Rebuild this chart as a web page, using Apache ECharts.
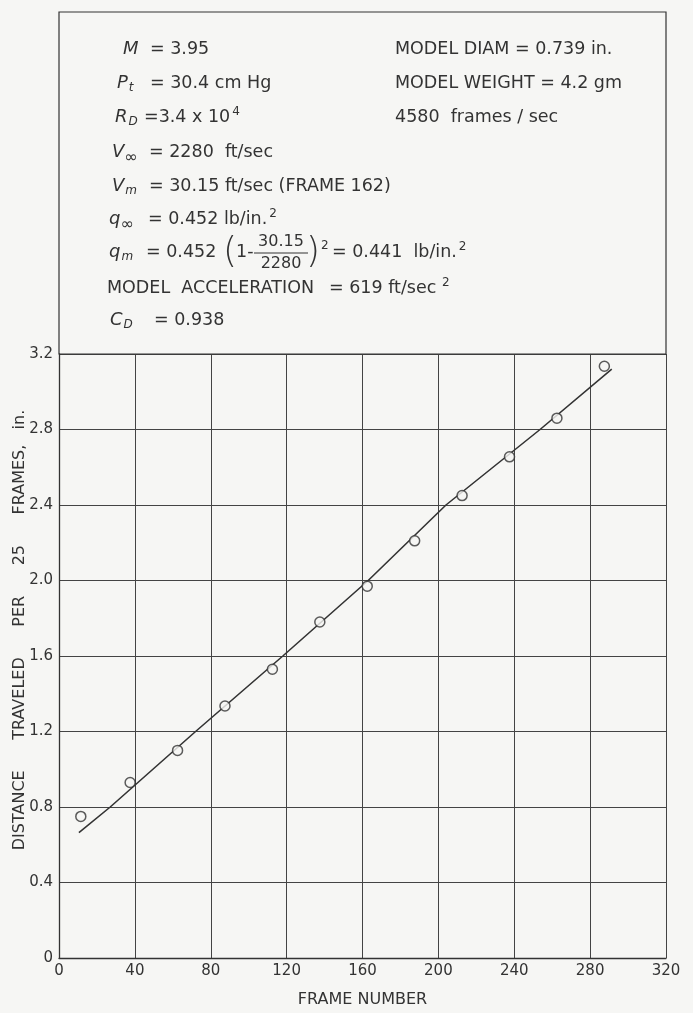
<!DOCTYPE html>
<html>
<head>
<meta charset="utf-8">
<script src="https://cdn.jsdelivr.net/npm/echarts@6/dist/echarts.min.js"></script>
<style>
html,body{margin:0;padding:0;background:#f6f6f4;}
#c{width:693px;height:1013px;}
</style>
</head>
<body>
<div id="c"></div>
<script>
// ---- data ----
const frameNumber = [11.5, 37.5, 62.5, 87.5, 112.5, 137.5, 162.5, 187.5, 212.5, 237.5, 262.5, 287.5];
const distance    = [0.75, 0.93, 1.10, 1.335, 1.53, 1.78, 1.97, 2.21, 2.45, 2.655, 2.86, 3.135];
const fairedFrame    = [10.5, 27, 72, 118, 163, 204, 253.6, 291.4];
const fairedDistance = [0.664, 0.80, 1.2, 1.6, 2.0, 2.4, 2.8, 3.12];
const xTicks = [0, 40, 80, 120, 160, 200, 240, 280, 320];
const yTicks = [0, 0.4, 0.8, 1.2, 1.6, 2.0, 2.4, 2.8, 3.2];

const BG = '#f6f6f4', INK = '#333';
const FF = '"DejaVu Sans", sans-serif';

const rich = {
  i:   {fontFamily: FF, fontSize: 18, fontStyle: 'italic', fill: INK, verticalAlign: 'middle'},
  sb:  {fontFamily: FF, fontSize: 12, fontStyle: 'italic', fill: INK, padding: [9, 0, 0, 1], verticalAlign: 'middle'},
  inf: {fontFamily: FF, fontSize: 16, fill: INK, padding: [11, 0, 0, 0], verticalAlign: 'middle'},
  sp:  {fontFamily: FF, fontSize: 12, fill: INK, padding: [0, 0, 11, 2], verticalAlign: 'middle'},
  n:   {fontFamily: FF, fontSize: 17.5, fill: INK, verticalAlign: 'middle'}
};
function T(x, y, text, extra) {
  return {type: 'text', x: x, y: y, z: 10,
    style: Object.assign({text: text, rich: rich, fill: INK, fontFamily: FF, fontSize: 17.5,
      align: 'left', verticalAlign: 'middle'}, extra || {})};
}
function paren(x, ch) {
  return {type: 'text', x: x, y: 253, z: 10,
    style: {text: ch, fill: INK, fontFamily: FF, fontSize: 36, fontWeight: 'lighter',
      align: 'left', verticalAlign: 'middle'}};
}

const texts = [
  T(123, 49, '{i|M}'),            T(150, 49, '{n|= 3.95}'),
  T(117, 83, '{i|P}{sb|t}'),      T(150, 83, '{n|= 30.4 cm Hg}'),
  T(115, 117, '{i|R}{sb|D}'),     T(144, 117, '{n|=3.4 x 10}{sp|4}'),
  T(112, 152, '{i|V}{inf|∞}'),    T(149, 152, '{n|= 2280  ft/sec}'),
  T(112, 186, '{i|V}{sb|m}'),     T(149, 186, '{n|= 30.15 ft/sec (FRAME 162)}'),
  T(109, 219, '{i|q}{inf|∞}'),    T(148, 219, '{n|= 0.452 lb/in.}{sp|2}'),
  T(109, 252, '{i|q}{sb|m}'),     T(146, 252, '{n|= 0.452}'),
  paren(223, '('),
  T(236, 252, '{n|1-}'),
  T(281, 242, '30.15', {align: 'center', fontSize: 16}),
  {type: 'line', z: 10, shape: {x1: 254, y1: 253, x2: 308, y2: 253}, style: {stroke: INK, lineWidth: 1.2}},
  T(281, 264, '2280', {align: 'center', fontSize: 16}),
  paren(306, ')'),
  T(321, 246, '2', {fontSize: 12}),
  T(332, 252, '{n|= 0.441  lb/in.}{sp|2}'),
  T(107, 288, '{n|MODEL  ACCELERATION}'), T(329, 288, '{n|= 619 ft/sec}{sp| 2}'),
  T(110, 320, '{i|C}{sb|D}'),     T(154, 320, '{n|= 0.938}'),
  T(395, 49, '{n|MODEL DIAM = 0.739 in.}'),
  T(395, 83, '{n|MODEL WEIGHT = 4.2 gm}'),
  T(395, 117, '{n|4580  frames / sec}'),
  {type: 'rect', z: 5, shape: {x: 59, y: 12, width: 607, height: 342},
   style: {fill: 'none', stroke: INK, lineWidth: 1.2}}
];

const chart = echarts.init(document.getElementById('c'), null, {renderer: 'canvas'});
chart.setOption({
  backgroundColor: BG,
  animation: false,
  grid: {left: 59, right: 27, top: 354, bottom: 55, containLabel: false, outerBoundsMode: 'none'},
  xAxis: {
    type: 'value', min: xTicks[0], max: xTicks[xTicks.length - 1], interval: 40,
    name: 'FRAME NUMBER', nameLocation: 'middle', nameGap: 34, nameMoveOverlap: false,
    nameTextStyle: {color: INK, fontFamily: FF, fontSize: 16},
    axisLine: {show: true, lineStyle: {color: INK, width: 1.3}},
    axisTick: {show: false},
    axisLabel: {color: INK, fontFamily: FF, fontSize: 15, margin: 6},
    splitLine: {show: true, lineStyle: {color: '#444', width: 1}}
  },
  yAxis: {
    type: 'value', min: yTicks[0], max: yTicks[yTicks.length - 1], interval: 0.4,
    name: 'DISTANCE      TRAVELED      PER      25      FRAMES,   in.', nameLocation: 'middle',
    nameGap: 31, nameMoveOverlap: false,
    nameTextStyle: {color: INK, fontFamily: FF, fontSize: 16, padding: [0, 0, 0, 52]},
    axisLine: {show: true, lineStyle: {color: INK, width: 1.3}},
    axisTick: {show: false},
    axisLabel: {color: INK, fontFamily: FF, fontSize: 15, margin: 6,
      formatter: function (v) { return v === 0 ? '0' : v.toFixed(1); }},
    splitLine: {show: true, lineStyle: {color: '#444', width: 1}}
  },
  graphic: texts,
  series: [
    {
      type: 'line', data: fairedFrame.map((f, i) => [f, fairedDistance[i]]),
      showSymbol: false, smooth: false, z: 2,
      lineStyle: {color: INK, width: 1.6}
    },
    {
      type: 'scatter', data: frameNumber.map((f, i) => [f, distance[i]]),
      symbol: 'circle', symbolSize: 10, z: 3,
      itemStyle: {color: BG, borderColor: INK, borderWidth: 1.5}
    }
  ]
});
</script>
</body>
</html>
